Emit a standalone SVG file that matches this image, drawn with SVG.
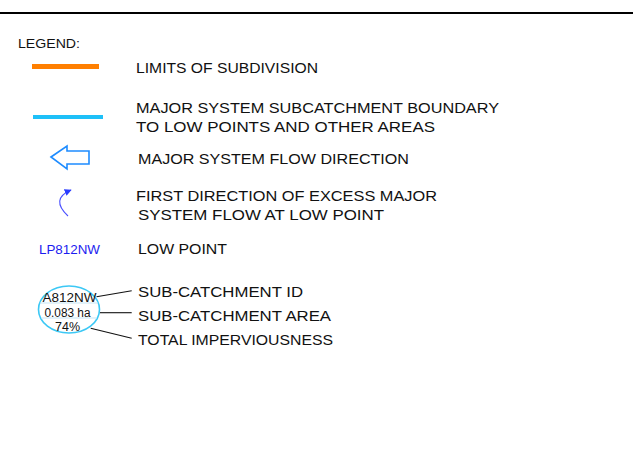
<svg xmlns="http://www.w3.org/2000/svg" width="633" height="458" viewBox="0 0 633 458">
  <style>
    .lbl { font-family: "Liberation Sans", Arial, sans-serif; font-size: 15.5px; fill: #111; }
    .lead { stroke: #111; stroke-width: 1.1; fill: none; }
    .cell { font-family: "Liberation Sans", Arial, sans-serif; font-size: 12.5px; fill: #111; text-anchor: middle; }
  </style>
  <defs>
    <marker id="tip" viewBox="0 0 10 10" refX="9" refY="5" markerWidth="7" markerHeight="7" orient="auto" markerUnits="userSpaceOnUse">
      <path d="M0,0 L10,5 L0,10 Z" fill="#2a3cff"/>
    </marker>
  </defs>
  <rect width="633" height="458" fill="#fff"/>
  <line x1="0" y1="13" x2="633" y2="13" stroke="#000" stroke-width="2"/>

  <g id="title">
    <text x="18" y="48" font-family="Liberation Sans, Arial, sans-serif" font-size="13.5" fill="#111" textLength="62" lengthAdjust="spacingAndGlyphs">LEGEND:</text>
  </g>

  <g id="limits">
    <line x1="32" y1="66.5" x2="99" y2="66.5" stroke="#ff7f00" stroke-width="5"/>
    <text class="lbl" x="136" y="73" textLength="182" lengthAdjust="spacingAndGlyphs">LIMITS OF SUBDIVISION</text>
  </g>

  <g id="boundary">
    <line x1="33" y1="117" x2="103" y2="117" stroke="#1ec0f8" stroke-width="4"/>
    <text class="lbl" x="136" y="112.5" textLength="363" lengthAdjust="spacingAndGlyphs">MAJOR SYSTEM SUBCATCHMENT BOUNDARY</text>
    <text class="lbl" x="136" y="131.5" textLength="299" lengthAdjust="spacingAndGlyphs">TO LOW POINTS AND OTHER AREAS</text>
  </g>

  <g id="flow">
    <path d="M51,157 L67,146 L67,151 L89,151 L89,164 L67,164 L67,169 Z" fill="none" stroke="#1e8cff" stroke-width="1.6" stroke-linejoin="miter"/>
    <text class="lbl" x="138" y="164" textLength="271" lengthAdjust="spacingAndGlyphs">MAJOR SYSTEM FLOW DIRECTION</text>
  </g>

  <g id="excess">
    <path d="M68,216 Q50,199 71,190" fill="none" stroke="#4a50ff" stroke-width="1.1" marker-end="url(#tip)"/>
    <text class="lbl" x="136" y="200.5" textLength="301" lengthAdjust="spacingAndGlyphs">FIRST DIRECTION OF EXCESS MAJOR</text>
    <text class="lbl" x="138" y="220" textLength="246" lengthAdjust="spacingAndGlyphs">SYSTEM FLOW AT LOW POINT</text>
  </g>

  <g id="lowpoint">
    <text x="39" y="253.5" font-family="Liberation Sans, Arial, sans-serif" font-size="12" fill="#1c1cf0" textLength="61" lengthAdjust="spacingAndGlyphs">LP812NW</text>
    <text class="lbl" x="138" y="254" textLength="89" lengthAdjust="spacingAndGlyphs">LOW POINT</text>
  </g>

  <g id="subcatchment">
    <ellipse cx="69" cy="309.5" rx="30.5" ry="23.5" fill="none" stroke="#3cc8f5" stroke-width="1.6"/>
    <line x1="40" y1="303" x2="98" y2="303" stroke="#c6e6f6" stroke-width="1.2"/>
    <line x1="41" y1="318" x2="97" y2="318" stroke="#c6e6f6" stroke-width="1.2"/>
    <text class="cell" x="69.5" y="301.5" textLength="54" lengthAdjust="spacingAndGlyphs">A812NW</text>
    <text class="cell" x="67.5" y="316.5" textLength="46" lengthAdjust="spacingAndGlyphs">0.083 ha</text>
    <text class="cell" x="67.5" y="331" textLength="25" lengthAdjust="spacingAndGlyphs">74%</text>
    <text class="lbl" x="138" y="296.5" textLength="165" lengthAdjust="spacingAndGlyphs">SUB-CATCHMENT ID</text>
    <text class="lbl" x="138" y="320.5" textLength="193" lengthAdjust="spacingAndGlyphs">SUB-CATCHMENT AREA</text>
    <text class="lbl" x="138" y="345" textLength="195" lengthAdjust="spacingAndGlyphs">TOTAL IMPERVIOUSNESS</text>
  </g>

  <g id="connectors">
    <line class="lead" x1="96.5" y1="296.7" x2="131.7" y2="290.7"/>
    <line class="lead" x1="100" y1="312.7" x2="131.7" y2="312.7"/>
    <line class="lead" x1="90.7" y1="328.3" x2="131.7" y2="338.3"/>
  </g>
</svg>
